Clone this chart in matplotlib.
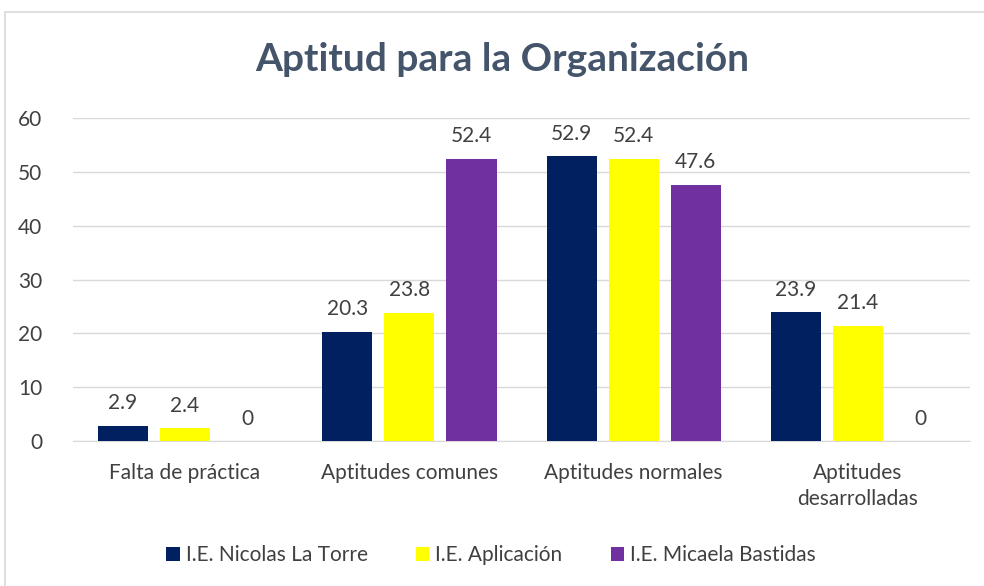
import numpy as np
import matplotlib.pyplot as plt
from matplotlib.patches import Rectangle

categories = ['Falta de práctica', 'Aptitudes comunes', 'Aptitudes normales', 'Aptitudes\ndesarrolladas']
series_names = ['I.E. Nicolas La Torre', 'I.E. Aplicación', 'I.E. Micaela Bastidas']
nicolas = [2.9, 20.3, 52.9, 23.9]
aplicacion = [2.4, 23.8, 52.4, 21.4]
micaela = [0, 52.4, 47.6, 0]
colors = ['#002060', '#FFFF00', '#7030A0']

plt.rcParams['font.family'] = ['Lato', 'DejaVu Sans']
text_color = '#44546A'

fig = plt.figure(figsize=(9.84, 5.86), dpi=100)
ax = fig.add_axes([0.074, 0.247, 0.912, 0.552])

# light frame around the chart area
fig.patches.append(Rectangle((5 / 984, -0.01), 1.0, 1 - 12 / 586 + 0.01,
                             transform=fig.transFigure, fill=False,
                             edgecolor='#D9D9D9', linewidth=1.2))

x = np.arange(len(categories))
width = 0.223
offsets = [-0.277, 0, 0.277]
for vals, name, col, off in zip([nicolas, aplicacion, micaela], series_names, colors, offsets):
    bars = ax.bar(x + off, vals, width, color=col, label=name, zorder=3)
    for b, v in zip(bars, vals):
        ax.annotate(f'{v:g}', (b.get_x() + b.get_width() / 2, v),
                    xytext=(0, 9), textcoords='offset points',
                    ha='center', va='bottom', fontsize=15, color='#404040')

ax.set_ylim(0, 60)
ax.set_xlim(-0.5, 3.5)
ax.set_yticks(range(0, 61, 10))
ax.set_xticks(x)
ax.set_xticklabels(categories, linespacing=1.35)
ax.grid(axis='y', color='#D9D9D9', linewidth=1, zorder=0)
for s in ax.spines.values():
    s.set_visible(False)
ax.spines['bottom'].set_visible(True)
ax.spines['bottom'].set_color('#D9D9D9')
ax.tick_params(length=0, labelsize=15, colors='#404040')
ax.tick_params(axis='x', pad=16)
ax.tick_params(axis='y', pad=22)

fig.text(0.51, 0.898, 'Aptitud para la Organización', ha='center', va='center',
         fontsize=28, fontweight='bold', color=text_color)

ax.legend(loc='center', bbox_to_anchor=(0.466, -0.353), ncol=3, frameon=False,
          fontsize=15, handlelength=0.65, handleheight=0.65, handletextpad=0.3,
          columnspacing=2.3, labelcolor='#404040')

fig.savefig('out.png', dpi=100)
